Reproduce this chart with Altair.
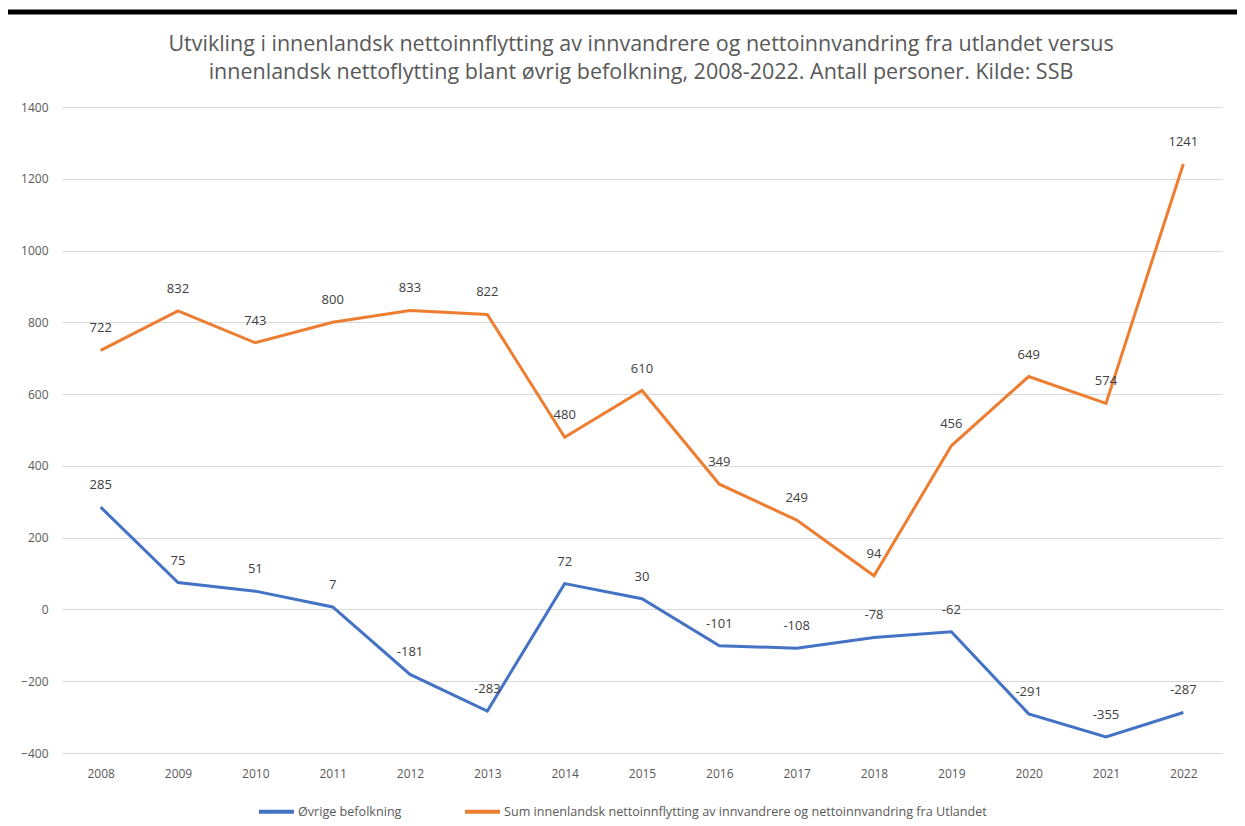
import altair as alt
import pandas as pd

years = [str(y) for y in range(2008, 2023)]
ovrige = [285, 75, 51, 7, -181, -283, 72, 30, -101, -108, -78, -62, -291, -355, -287]
summ = [722, 832, 743, 800, 833, 822, 480, 610, 349, 249, 94, 456, 649, 574, 1241]
s1 = "Øvrige befolkning"
s2 = "Sum innenlandsk nettoinnflytting av innvandrere og nettoinnvandring fra Utlandet"
title_lines = [
    "Utvikling i innenlandsk nettoinnflytting av innvandrere og nettoinnvandring fra utlandet versus",
    "innenlandsk nettoflytting blant øvrig befolkning, 2008-2022. Antall personer. Kilde: SSB",
]

rows = []
for y, v in zip(years, ovrige):
    rows.append({"year": y, "value": v, "series": s1, "label": str(v)})
for y, v in zip(years, summ):
    rows.append({"year": y, "value": v, "series": s2, "label": str(v)})
df = pd.DataFrame(rows)

FONT = "Open Sans"

x = alt.X("year:N", title=None, sort=years,
          scale=alt.Scale(paddingInner=0, paddingOuter=0.5),
          axis=alt.Axis(labelAngle=0, ticks=False, domain=False, grid=False,
                        labelFont=FONT, labelFontSize=12, labelColor="#595959", labelPadding=15))
y = alt.Y("value:Q", title=None,
          scale=alt.Scale(domain=[-400, 1400], nice=False),
          axis=alt.Axis(values=list(range(-400, 1401, 200)), format="d", ticks=False, domain=False,
                        gridColor="#D9D9D9", gridWidth=1, labelFont=FONT, labelFontSize=12,
                        labelColor="#595959", labelPadding=14))
color = alt.Color("series:N", title=None,
                  scale=alt.Scale(domain=[s1, s2], range=["#4472C4", "#ED7D31"]),
                  legend=alt.Legend(orient="none", legendX=195, legendY=685,
                                    direction="horizontal", symbolType="stroke",
                                    symbolSize=1225, symbolStrokeWidth=4, labelFont=FONT,
                                    labelFontSize=12.6, labelColor="#595959", labelLimit=800,
                                    labelOffset=2, columnPadding=55, padding=0))

base = alt.Chart(df)
lines = base.mark_line(strokeWidth=3).encode(x=x, y=y, color=color)
labels = base.mark_text(dy=-22, font=FONT, fontSize=13, color="#404040").encode(
    x=x, y=y, text="label:N")

bar = alt.Chart(pd.DataFrame({"a": [0]})).mark_rule(color="black", strokeWidth=5).encode(
    x=alt.value(-54), x2=alt.value(1183), y=alt.value(-95))

tdf = pd.DataFrame({"t": title_lines, "py": [-62, -34]})
title = alt.Chart(tdf).mark_text(font=FONT, fontSize=21.5, color="#595959", align="center",
                                 baseline="middle").encode(
    x=alt.value(579), y=alt.Y("py:Q", scale=None), text="t:N")

chart = alt.layer(bar, title, lines, labels).properties(
    width=1160, height=646,
    autosize=alt.AutoSizeParams(type="none"),
    padding={"left": 54, "top": 99, "right": 15, "bottom": 67},
).configure_view(stroke=None)

chart.save("out.html", embed_options={"renderer": "svg", "actions": False})
